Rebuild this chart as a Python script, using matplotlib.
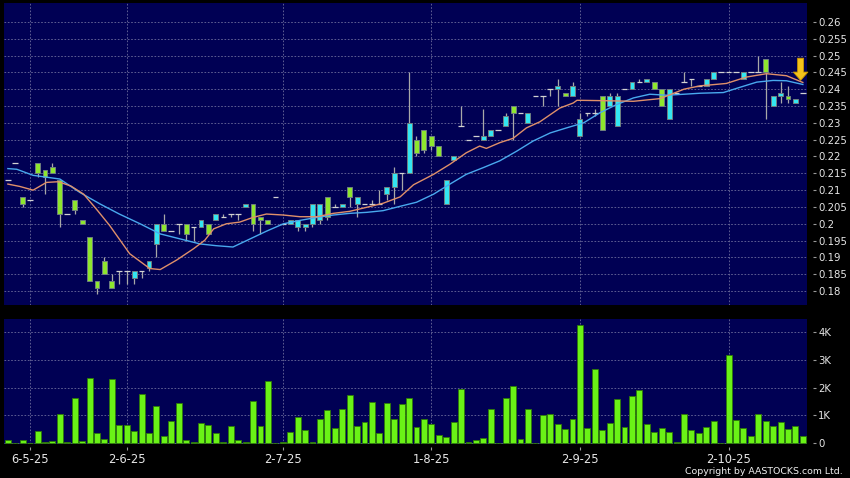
import matplotlib.pyplot as plt
from matplotlib.patches import Rectangle
import numpy as np

# daily OHLC (108 sessions)
opens = [0.213, 0.218, 0.208, 0.207, 0.218, 0.216, 0.217, 0.213, 0.203, 0.207,
         0.201, 0.196, 0.183, 0.189, 0.183, 0.186, 0.186, 0.184, 0.186, 0.187,
         0.194, 0.200, 0.198, 0.200, 0.200, 0.199, 0.199, 0.200, 0.201, 0.202,
         0.203, 0.203, 0.205, 0.206, 0.202, 0.201, 0.208, 0.200, 0.200, 0.199,
         0.199, 0.200, 0.201, 0.208, 0.205, 0.205, 0.211, 0.206, 0.206, 0.206,
         0.206, 0.209, 0.211, 0.215, 0.215, 0.225, 0.228, 0.226, 0.223, 0.206,
         0.219, 0.229, 0.225, 0.226, 0.225, 0.226, 0.228, 0.229, 0.235, 0.233,
         0.230, 0.238, 0.238, 0.240, 0.240, 0.239, 0.238, 0.226, 0.233, 0.233,
         0.238, 0.235, 0.229, 0.240, 0.240, 0.242, 0.242, 0.242, 0.240, 0.231,
         0.239, 0.242, 0.243, 0.241, 0.241, 0.243, 0.245, 0.245, 0.245, 0.243,
         0.245, 0.245, 0.249, 0.235, 0.238, 0.238, 0.236, 0.239]
highs = [0.213, 0.218, 0.208, 0.207, 0.218, 0.216, 0.218, 0.213, 0.203, 0.207,
         0.201, 0.196, 0.183, 0.190, 0.185, 0.186, 0.186, 0.186, 0.186, 0.189,
         0.200, 0.203, 0.198, 0.200, 0.200, 0.199, 0.201, 0.200, 0.203, 0.203,
         0.203, 0.203, 0.206, 0.206, 0.202, 0.201, 0.208, 0.200, 0.201, 0.201,
         0.200, 0.206, 0.206, 0.208, 0.206, 0.206, 0.211, 0.208, 0.206, 0.207,
         0.210, 0.211, 0.217, 0.215, 0.245, 0.226, 0.228, 0.226, 0.223, 0.213,
         0.220, 0.235, 0.225, 0.226, 0.234, 0.228, 0.228, 0.233, 0.235, 0.233,
         0.233, 0.238, 0.238, 0.240, 0.243, 0.239, 0.242, 0.233, 0.233, 0.234,
         0.238, 0.239, 0.239, 0.240, 0.242, 0.243, 0.243, 0.242, 0.240, 0.240,
         0.239, 0.245, 0.243, 0.241, 0.243, 0.245, 0.245, 0.245, 0.245, 0.245,
         0.245, 0.250, 0.249, 0.238, 0.242, 0.241, 0.237, 0.239]
lows = [0.213, 0.218, 0.205, 0.207, 0.214, 0.209, 0.215, 0.199, 0.203, 0.203,
        0.200, 0.183, 0.179, 0.185, 0.181, 0.182, 0.182, 0.182, 0.184, 0.186,
        0.190, 0.198, 0.198, 0.197, 0.195, 0.195, 0.199, 0.197, 0.201, 0.202,
        0.202, 0.201, 0.205, 0.198, 0.197, 0.200, 0.208, 0.200, 0.200, 0.198,
        0.198, 0.199, 0.200, 0.201, 0.205, 0.205, 0.205, 0.202, 0.206, 0.206,
        0.206, 0.207, 0.206, 0.210, 0.215, 0.220, 0.221, 0.222, 0.220, 0.206,
        0.219, 0.229, 0.225, 0.226, 0.225, 0.226, 0.228, 0.229, 0.225, 0.233,
        0.230, 0.238, 0.235, 0.238, 0.235, 0.238, 0.238, 0.226, 0.232, 0.232,
        0.228, 0.235, 0.229, 0.240, 0.240, 0.242, 0.242, 0.240, 0.235, 0.231,
        0.239, 0.242, 0.241, 0.241, 0.241, 0.243, 0.245, 0.245, 0.245, 0.243,
        0.245, 0.245, 0.231, 0.235, 0.236, 0.236, 0.236, 0.239]
closes = [0.213, 0.218, 0.206, 0.207, 0.215, 0.214, 0.215, 0.203, 0.203, 0.204,
          0.200, 0.183, 0.181, 0.185, 0.181, 0.186, 0.186, 0.186, 0.186, 0.189,
          0.200, 0.198, 0.198, 0.200, 0.197, 0.199, 0.201, 0.197, 0.203, 0.202,
          0.203, 0.203, 0.206, 0.200, 0.201, 0.200, 0.208, 0.200, 0.201, 0.201,
          0.200, 0.206, 0.206, 0.202, 0.205, 0.206, 0.208, 0.208, 0.206, 0.206,
          0.206, 0.211, 0.215, 0.215, 0.230, 0.221, 0.222, 0.223, 0.220, 0.213,
          0.220, 0.229, 0.225, 0.226, 0.226, 0.228, 0.228, 0.232, 0.233, 0.233,
          0.233, 0.238, 0.238, 0.240, 0.241, 0.238, 0.241, 0.231, 0.233, 0.233,
          0.228, 0.238, 0.238, 0.240, 0.242, 0.242, 0.243, 0.240, 0.235, 0.240,
          0.239, 0.242, 0.243, 0.241, 0.243, 0.245, 0.245, 0.245, 0.245, 0.245,
          0.245, 0.245, 0.245, 0.238, 0.239, 0.237, 0.237, 0.239]

# volume in thousands of shares
volumes = [0.12, 0.02, 0.12, 0.00, 0.44, 0.03, 0.10, 1.05, 0.03, 1.62,
           0.08, 2.36, 0.37, 0.14, 2.31, 0.65, 0.65, 0.46, 1.77, 0.36,
           1.33, 0.26, 0.80, 1.44, 0.12, 0.05, 0.73, 0.65, 0.37, 0.06,
           0.61, 0.12, 0.06, 1.53, 0.62, 2.24, 0.00, 0.04, 0.41, 0.95,
           0.49, 0.04, 0.89, 1.20, 0.55, 1.23, 1.72, 0.61, 0.75, 1.47,
           0.37, 1.44, 0.87, 1.41, 1.62, 0.60, 0.87, 0.69, 0.29, 0.23,
           0.75, 1.95, 0.05, 0.11, 0.20, 1.25, 0.01, 1.62, 2.05, 0.14,
           1.23, 0.00, 1.03, 1.05, 0.69, 0.51, 0.89, 4.24, 0.56, 2.66,
           0.48, 0.72, 1.60, 0.60, 1.71, 1.90, 0.68, 0.42, 0.56, 0.40,
           0.04, 1.04, 0.48, 0.38, 0.60, 0.80, 0.00, 3.16, 0.84, 0.54,
           0.26, 1.07, 0.80, 0.61, 0.78, 0.51, 0.63, 0.26]

# moving averages (session index, price)
ma_fast_x = [0, 1.6, 3.4, 5.2, 6.8, 8.5, 10.2, 11.9, 13.7, 16.4, 19.1, 20.5, 22.7,
             25, 26.5, 27.7, 29.4, 31.2, 33, 34.8, 37.1, 39.3, 41.6, 43.8, 46,
             48.3, 50.5, 52.8, 54.6, 57.3, 59.5, 61.7, 63.5, 64.4, 66.2, 68,
             69.8, 71.6, 74.3, 76.1, 76.6, 79.7, 84.2, 87.8, 91, 93.2, 96.7,
             99.4, 102.1, 104.8, 107]
ma_fast_y = [0.2118, 0.2111, 0.2100, 0.2123, 0.2125, 0.2112, 0.2088, 0.2044,
             0.1995, 0.1911, 0.1867, 0.1864, 0.1892, 0.1926, 0.1951, 0.1985,
             0.2000, 0.2005, 0.2019, 0.2029, 0.2026, 0.2021, 0.2021, 0.2031,
             0.2037, 0.2049, 0.2061, 0.2080, 0.2116, 0.2147, 0.2177, 0.2211,
             0.2231, 0.2224, 0.2241, 0.2254, 0.2285, 0.2303, 0.2344, 0.2359,
             0.2367, 0.2366, 0.2364, 0.2372, 0.2400, 0.2410, 0.2417, 0.2436,
             0.2446, 0.2440, 0.2420]
ma_slow_x = [0, 1.2, 3.4, 7, 9.7, 12.4, 15, 17.8, 20.5, 23.2, 25.9, 28, 30.3,
             32.6, 34.8, 37.1, 39.3, 41.6, 43.8, 46, 48.3, 50.5, 52.8, 55,
             57.3, 59.5, 61.7, 64, 66.2, 68.5, 70.7, 73, 75.2, 77.5, 79.7,
             81.9, 84.2, 86.4, 88.7, 91, 93.2, 96.3, 98.6, 100.8, 103, 104.8,
             107]
ma_slow_y = [0.2164, 0.2162, 0.2144, 0.2133, 0.2093, 0.2059, 0.2029, 0.2000,
             0.1970, 0.1955, 0.1940, 0.1935, 0.1931, 0.1955, 0.1978, 0.2000,
             0.2010, 0.2019, 0.2026, 0.2031, 0.2034, 0.2039, 0.2052, 0.2064,
             0.2088, 0.2118, 0.2147, 0.2167, 0.2187, 0.2216, 0.2246, 0.2270,
             0.2285, 0.2300, 0.2330, 0.2354, 0.2374, 0.2385, 0.2382, 0.2385,
             0.2388, 0.2390, 0.2406, 0.2421, 0.2426, 0.2425, 0.2414]

tick_idx = [3, 16, 37, 57, 77, 97]
tick_labels = ['6-5-25', '2-6-25', '2-7-25', '1-8-25', '2-9-25', '2-10-25']
price_ticks = [0.18, 0.185, 0.19, 0.195, 0.2, 0.205, 0.21, 0.215, 0.22,
               0.225, 0.23, 0.235, 0.24, 0.245, 0.25, 0.255, 0.26]
vol_ticks = [0, 1, 2, 3, 4]

navy = '#000054'
grid_col = '#6c6c9c'
up_col = '#33e6f2'
down_col = '#8ee62e'
wick_col = '#a8a8a8'

fig = plt.figure(figsize=(8.5, 4.78), dpi=100, facecolor='black')
ax = fig.add_axes([4 / 850, 1 - 305 / 478, 803 / 850, 302 / 478], facecolor=navy)
axv = fig.add_axes([4 / 850, 1 - 444 / 478, 803 / 850, 125 / 478], facecolor=navy)

xlim = (-0.52, 107.56)
for a in (ax, axv):
    a.set_xlim(*xlim)
    a.set_axisbelow(True)
    for s in a.spines.values():
        s.set_visible(False)
    a.spines['right'].set_position(('outward', 4))
    a.spines['bottom'].set_position(('outward', 2))
    a.yaxis.tick_right()
    a.tick_params(axis='y', length=2.3, width=0.8, color='#9a9a9a', pad=1.8,
                  labelcolor='#e6e6e6', labelsize=7.3)
    a.tick_params(axis='x', length=2.3, width=0.8, color='#9a9a9a', pad=2.5,
                  labelcolor='#e6e6e6', labelsize=8.3)
    a.set_xticks(tick_idx)
    a.grid(True, color=grid_col, linestyle=(0, (2, 2)), linewidth=0.6)

# candles
body_w = 0.66
for i in range(len(opens)):
    o, h, l, c = opens[i], highs[i], lows[i], closes[i]
    if h > l:
        ax.vlines(i, l, h, color=wick_col, linewidth=0.9, zorder=2)
    if c == o:
        ax.hlines(c, i - 0.38, i + 0.38, color='#d2d2d2', linewidth=0.9, zorder=3)
    else:
        col = up_col if c > o else down_col
        ax.add_patch(Rectangle((i - body_w / 2, min(o, c)), body_w, abs(c - o),
                               facecolor=col, edgecolor='#6f7f80', linewidth=0.7,
                               zorder=3))

ax.plot(ma_slow_x, ma_slow_y, color='#49a9ee', linewidth=1.0, zorder=4)
ax.plot(ma_fast_x, ma_fast_y, color='#e0906a', linewidth=1.0, zorder=4)

ax.set_ylim(0.18 - 14 / 3387.5, 0.26 + 19 / 3387.5)
ax.set_yticks(price_ticks)
ax.set_yticklabels(['%g' % p for p in price_ticks])
ax.set_xticklabels([])
ax.tick_params(axis='x', length=0)

# marker arrow on the last session
ax.annotate('', xy=(106.7, 0.2426), xytext=(106.7, 0.2492),
            arrowprops=dict(facecolor='#f4c21a', edgecolor='#c89400', width=4.3,
                            headwidth=10.5, headlength=6, shrink=0, linewidth=0.6),
            zorder=6)

# volume
axv.bar(range(len(volumes)), volumes, width=0.8, color='#6af216',
        edgecolor='#2f7a08', linewidth=0.6, zorder=3)
axv.set_ylim(-0.025, 4.47)
axv.set_yticks(vol_ticks)
axv.set_yticklabels(['0' if v == 0 else '%dK' % v for v in vol_ticks])
axv.set_xticklabels(tick_labels)

fig.text(843 / 850, 1 - 471.5 / 478, 'Copyright by AASTOCKS.com Ltd.',
         ha='right', va='center', color='#f0f0f0', fontsize=6.75)

fig.savefig('out.png', dpi=100, facecolor='black')
